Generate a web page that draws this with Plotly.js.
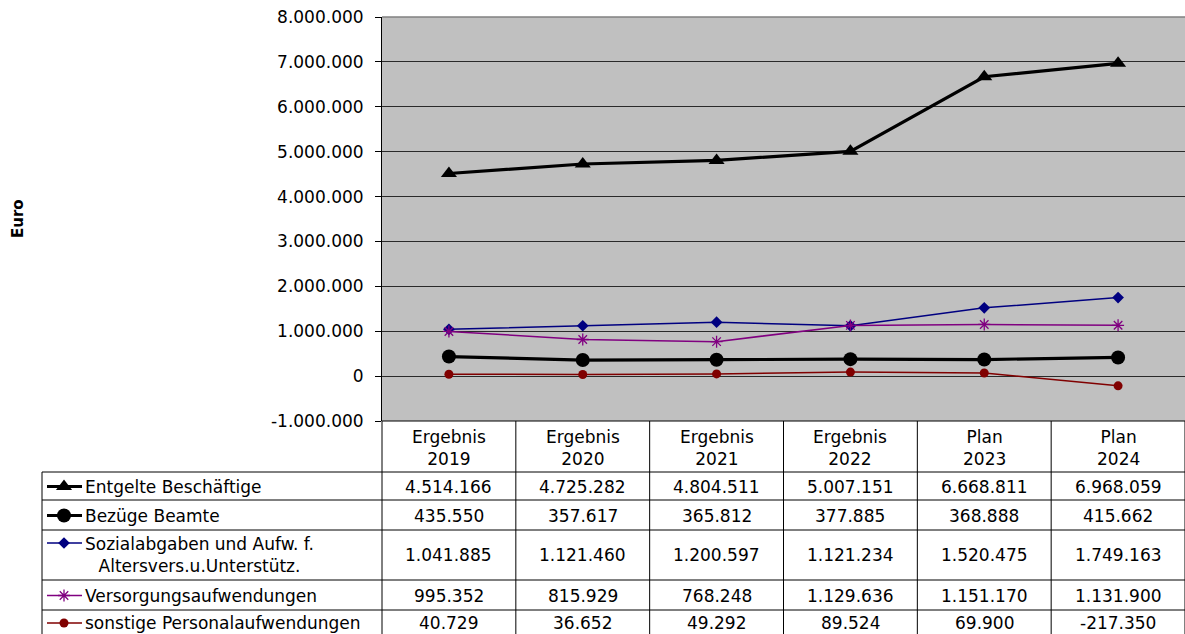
<!DOCTYPE html>
<html>
<head>
<meta charset="utf-8">
<script src="https://cdn.plot.ly/plotly-3.0.1.min.js"></script>
<style>
  html, body { margin: 0; padding: 0; background: #fff; }
  #chart { width: 1185px; height: 634px; }
</style>
</head>
<body>
<div id="chart"></div>
<script>
// ---------- DATA ----------
const categories = ['Ergebnis 2019', 'Ergebnis 2020', 'Ergebnis 2021', 'Ergebnis 2022', 'Plan 2023', 'Plan 2024'];
const headerLabels = ['Ergebnis<br>2019', 'Ergebnis<br>2020', 'Ergebnis<br>2021', 'Ergebnis<br>2022', 'Plan<br>2023', 'Plan<br>2024'];
const seriesNames = ['Entgelte Beschäftige', 'Bezüge Beamte', 'Sozialabgaben und Aufw. f.<br>Altersvers.u.Unterstütz.', 'Versorgungsaufwendungen', 'sonstige Personalaufwendungen'];
const entgelte   = [4514166, 4725282, 4804511, 5007151, 6668811, 6968059];
const bezuege    = [435550, 357617, 365812, 377885, 368888, 415662];
const sozial     = [1041885, 1121460, 1200597, 1121234, 1520475, 1749163];
const versorgung = [995352, 815929, 768248, 1129636, 1151170, 1131900];
const sonstige   = [40729, 36652, 49292, 89524, 69900, -217350];
const tickValues = [-1000000, 0, 1000000, 2000000, 3000000, 4000000, 5000000, 6000000, 7000000, 8000000];
const tickLabels = ['-1.000.000', '0', '1.000.000', '2.000.000', '3.000.000', '4.000.000', '5.000.000', '6.000.000', '7.000.000', '8.000.000'];
const yTitle = 'Euro';

// ---------- LAYOUT CONSTANTS (pixels) ----------
const W = 1185, H = 634;
const PLOT_L = 382, PLOT_R = 1185, PLOT_T = 17, PLOT_B = 421;
const TABLE_L = 42;
const HEADER_MID = 448;
const rowEdges = [472, 500, 530, 580, 610, 634];
const rowTextY = [486.5, 515.5, 555, 595.5, 623];
const rowKeyY  = [486.5, 515.5, 543, 595.5, 623];
const KEY_X0 = 47, KEY_X1 = 82, KEY_XM = 64;
const LABEL_X = 84;
const px = x => x / W;
const py = y => 1 - y / H;

const FONT = 'DejaVu Sans, Liberation Sans, Arial, sans-serif';
const styles = [
  { color: '#000000', width: 3.2, symbol: 'triangle-up',   size: 14 },
  { color: '#000000', width: 3.2, symbol: 'circle',        size: 14 },
  { color: '#000080', width: 1.5, symbol: 'diamond',       size: 9 },
  { color: '#800080', width: 1.5, symbol: 'asterisk-open', size: 10 },
  { color: '#800000', width: 1.5, symbol: 'circle',        size: 9 }
];
const seriesData = [entgelte, bezuege, sozial, versorgung, sonstige];

function fmtDE(v) {
  const neg = v < 0;
  let s = String(Math.abs(Math.round(v)));
  s = s.replace(/\B(?=(\d{3})+(?!\d))/g, '.');
  return (neg ? '-' : '') + s;
}

// ---------- TRACES ----------
const traces = [];
seriesData.forEach((vals, i) => {
  const st = styles[i];
  traces.push({
    type: 'scatter', mode: 'lines+markers',
    x: categories, y: vals,
    name: seriesNames[i],
    line: { color: st.color, width: st.width },
    marker: { symbol: st.symbol, size: st.size, color: st.color,
              line: { color: st.color, width: st.symbol === 'asterisk-open' ? 1.3 : 0 } },
    xaxis: 'x', yaxis: 'y',
    hoverinfo: 'skip', showlegend: false, cliponaxis: false
  });
});
// legend keys inside the data table (on a pixel-mapped helper axis)
seriesData.forEach((vals, i) => {
  const st = styles[i];
  traces.push({
    type: 'scatter', mode: 'lines',
    x: [KEY_X0, KEY_X1], y: [rowKeyY[i], rowKeyY[i]],
    line: { color: st.color, width: st.width },
    xaxis: 'x2', yaxis: 'y2', hoverinfo: 'skip', showlegend: false
  });
  traces.push({
    type: 'scatter', mode: 'markers',
    x: [KEY_XM], y: [rowKeyY[i]],
    marker: { symbol: st.symbol, size: st.size, color: st.color,
              line: { color: st.color, width: st.symbol === 'asterisk-open' ? 1.3 : 0 } },
    xaxis: 'x2', yaxis: 'y2', hoverinfo: 'skip', showlegend: false, cliponaxis: false
  });
});

// ---------- SHAPES (plot background + table grid) ----------
const shapes = [];
const lineStyle = { color: '#000000', width: 1 };
const colW = (PLOT_R - PLOT_L) / categories.length;
// grey plot-area background
shapes.push({ type: 'rect', xref: 'paper', yref: 'paper', x0: px(PLOT_L), x1: px(PLOT_R), y0: py(PLOT_B), y1: py(PLOT_T),
  fillcolor: '#c0c0c0', line: { width: 0 }, layer: 'below' });
// top border of plot area (grey)
shapes.push({ type: 'line', xref: 'paper', yref: 'paper', x0: px(PLOT_L), x1: px(PLOT_R), y0: py(PLOT_T), y1: py(PLOT_T), line: { color: '#808080', width: 1.5 }, layer: 'above' });
// plot bottom / table header top
shapes.push({ type: 'line', xref: 'paper', yref: 'paper', x0: px(PLOT_L), x1: px(PLOT_R), y0: py(PLOT_B), y1: py(PLOT_B), line: lineStyle });
// horizontal row lines
rowEdges.slice(0, 5).forEach(y => {
  shapes.push({ type: 'line', xref: 'paper', yref: 'paper', x0: px(TABLE_L), x1: px(PLOT_R), y0: py(y), y1: py(y), line: lineStyle });
});
// vertical column lines
for (let i = 0; i <= categories.length; i++) {
  const x = PLOT_L + i * colW;
  shapes.push({ type: 'line', xref: 'paper', yref: 'paper', x0: px(x), x1: px(x), y0: py(PLOT_B), y1: py(H), line: lineStyle });
}
// left border of the legend column
shapes.push({ type: 'line', xref: 'paper', yref: 'paper', x0: px(TABLE_L), x1: px(TABLE_L), y0: py(rowEdges[0]), y1: py(H), line: lineStyle });

// ---------- ANNOTATIONS ----------
const annotations = [];
const txtFont = { family: FONT, size: 17, color: '#000000' };
headerLabels.forEach((h, i) => {
  annotations.push({ xref: 'x', yref: 'paper', x: i, y: py(HEADER_MID), text: h, showarrow: false,
    xanchor: 'center', yanchor: 'middle', align: 'center', font: txtFont });
});
seriesData.forEach((vals, r) => {
  vals.forEach((v, c) => {
    annotations.push({ xref: 'x', yref: 'paper', x: c, y: py(rowTextY[r]), text: fmtDE(v), showarrow: false,
      xanchor: 'center', yanchor: 'middle', font: txtFont });
  });
  annotations.push({ xref: 'paper', yref: 'paper', x: px(LABEL_X), y: py(rowTextY[r]), text: seriesNames[r], showarrow: false,
    xanchor: 'left', yanchor: 'middle', align: 'center', font: txtFont, borderpad: 0 });
});
annotations.push({ xref: 'paper', yref: 'paper', x: px(18), y: py((PLOT_T + PLOT_B) / 2), text: '<b>' + yTitle + '</b>',
  textangle: -90, showarrow: false, xanchor: 'center', yanchor: 'middle',
  font: { family: FONT, size: 15, color: '#000000' } });

// ---------- LAYOUT ----------
const layout = {
  width: W, height: H,
  margin: { l: 0, r: 0, t: 0, b: 0, pad: 0 },
  paper_bgcolor: '#ffffff',
  plot_bgcolor: 'rgba(0,0,0,0)',
  font: { family: FONT, size: 17, color: '#000000' },
  showlegend: false,
  xaxis: {
    type: 'category', domain: [px(PLOT_L), px(PLOT_R)], range: [-0.5, categories.length - 0.5],
    showgrid: false, zeroline: false, showticklabels: false, ticks: '', showline: false, fixedrange: true
  },
  yaxis: {
    domain: [py(PLOT_B), py(PLOT_T)], range: [-1000000, 8000000],
    tickvals: tickValues, ticktext: tickLabels,
    showgrid: true, gridcolor: '#2a2a2a', gridwidth: 1, zeroline: false,
    ticks: 'outside', ticklen: 6, tickcolor: '#000000', tickwidth: 1,
    showline: true, linecolor: '#000000', linewidth: 1,
    tickfont: { family: FONT, size: 17, color: '#000000' },
    ticklabelstandoff: 8, fixedrange: true
  },
  xaxis2: { domain: [0, px(PLOT_L)], range: [0, PLOT_L], visible: false, fixedrange: true, anchor: 'y2' },
  yaxis2: { domain: [0, py(PLOT_B)], range: [H, PLOT_B], visible: false, fixedrange: true, anchor: 'x2' },
  shapes: shapes,
  annotations: annotations
};

Plotly.newPlot('chart', traces, layout, { displayModeBar: false, staticPlot: true });
</script>
</body>
</html>
